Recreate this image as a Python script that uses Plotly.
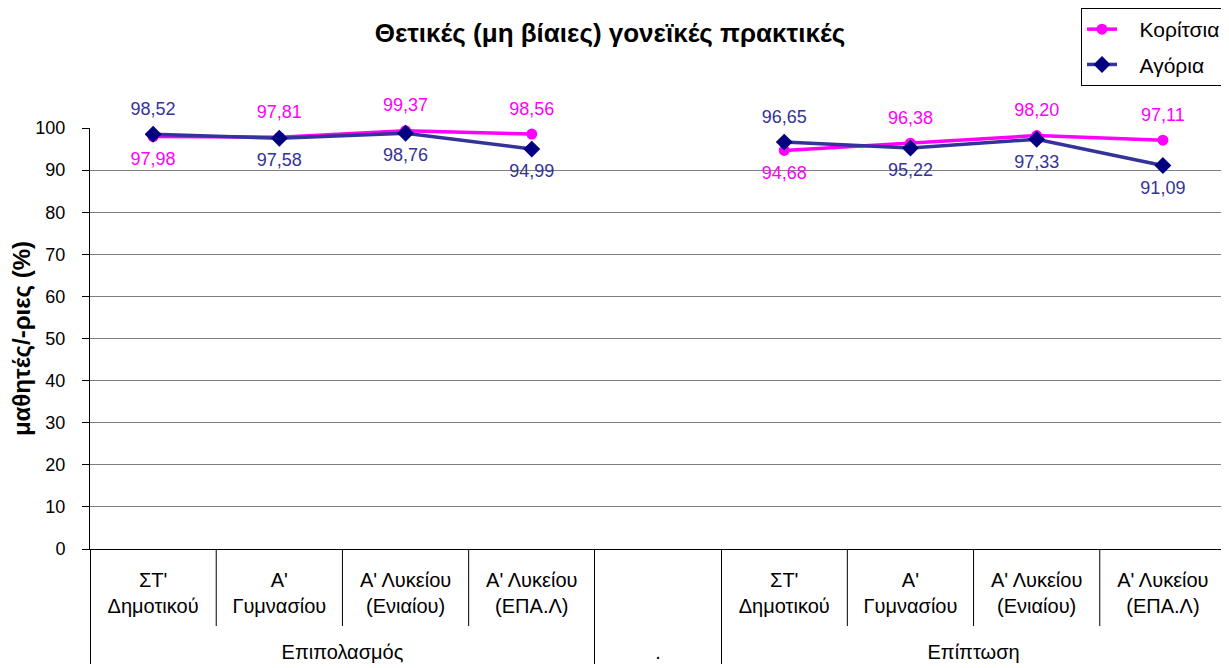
import plotly.graph_objects as go

# κατηγορίες άξονα x
grades = ["ΣΤ'<br>Δημοτικού", "Α'<br>Γυμνασίου", "Α' Λυκείου<br>(Ενιαίου)", "Α' Λυκείου<br>(ΕΠΑ.Λ)"]
groups = ["Επιπολασμός", ".", "Επίπτωση"]

# τιμές (%)
girls_prev = [97.98, 97.81, 99.37, 98.56]
girls_inc = [94.68, 96.38, 98.20, 97.11]
boys_prev = [98.52, 97.58, 98.76, 94.99]
boys_inc = [96.65, 95.22, 97.33, 91.09]

# θέση ετικετών τιμών
girls_pos = ["bottom", "top", "top", "top", "bottom", "top", "top", "top"]
boys_pos = ["top", "bottom", "bottom", "bottom", "top", "bottom", "bottom", "bottom"]

MAGENTA = "#FF00FF"
NAVY_LINE = "#333399"
NAVY_MARK = "#000080"
FONT = "Liberation Sans, Arial, sans-serif"

# η σελίδα έχει περιθώριο 8px, οπότε το σχήμα είναι λίγο μικρότερο από το παράθυρο
W, H = 1221, 660
M = dict(l=82, r=3, t=120, b=119, autoexpand=False)
plot_h = H - M["t"] - M["b"]
plot_w = W - M["l"] - M["r"]

group_fmt = "<br><span style='baseline-shift:-9px'>{}</span>"
x_group = [group_fmt.format(g) for g in [groups[0]] * len(grades) + [groups[1]] + [groups[2]] * len(grades)]
x_sub = grades + [" "] + grades
girls = girls_prev + [None] + girls_inc
boys = boys_prev + [None] + boys_inc

PAD = "\u00a0" * 3  # κενό πριν από το κείμενο του υπομνήματος


def with_gap(lst):
    return lst[:4] + ["top"] + lst[4:]


fig = go.Figure()

fig.add_trace(go.Scatter(
    x=[x_group, x_sub], y=girls, name=PAD + "Κορίτσια", mode="lines+markers",
    line=dict(color=MAGENTA, width=3.5),
    marker=dict(symbol="circle", size=11, color=MAGENTA),
    connectgaps=False, cliponaxis=False, legendgroup="g",
))
fig.add_trace(go.Scatter(
    x=[x_group, x_sub], y=boys, name=PAD + "Αγόρια", mode="lines+markers",
    line=dict(color=NAVY_LINE, width=3.5),
    marker=dict(symbol="diamond", size=13, color=NAVY_MARK),
    connectgaps=False, cliponaxis=False, legendgroup="b",
))

# ετικέτες τιμών (αόρατοι δείκτες για απόσταση από το σημείο)
for vals, pos, col in [(girls, girls_pos, MAGENTA), (boys, boys_pos, NAVY_LINE)]:
    fig.add_trace(go.Scatter(
        x=[x_group, x_sub], y=vals, mode="markers+text",
        marker=dict(size=22, opacity=0),
        texttemplate="%{y:.2f}",
        textposition=[p + " center" for p in with_gap(pos)],
        textfont=dict(color=col, size=18, family=FONT),
        showlegend=False, hoverinfo="skip", cliponaxis=False,
    ))

# κάθετες γραμμές ανάμεσα στις τάξεις (πρώτη σειρά ετικετών)
n = len(x_sub)
for k in [1, 2, 3, 6, 7, 8]:
    fig.add_shape(type="line", xref="x domain", yref="y domain",
                  x0=k / n, x1=k / n, y0=0, y1=-77 / plot_h,
                  line=dict(color="#000000", width=1))

fig.update_layout(
    width=W, height=H,
    margin=M,
    paper_bgcolor="white", plot_bgcolor="white",
    font=dict(family=FONT, size=18, color="#000000"),
    separators=",.",
    title=dict(text="<b>Θετικές (μη βίαιες) γονεϊκές πρακτικές</b>",
               x=0.493, xanchor="center",
               y=0.962, yanchor="middle",
               font=dict(size=26, family=FONT)),
    legend=dict(x=(1218 - M["l"]) / plot_w, xanchor="right",
                y=1 + M["t"] / plot_h, yanchor="top",
                bordercolor="#000000", borderwidth=1, bgcolor="white",
                font=dict(size=21, family=FONT), tracegroupgap=5),
    showlegend=True,
)

fig.update_xaxes(
    type="multicategory", showline=True, linecolor="#000000", linewidth=1,
    showgrid=False, ticks="", showdividers=True, dividercolor="#000000",
    dividerwidth=1, tickfont=dict(size=20, family=FONT), range=[-0.5, n - 0.5],
    ticklabelstandoff=13, automargin=False,
)
# ανοιχτόχρωμη γραμμή στο πάνω όριο (100)
fig.update_layout(xaxis2=dict(
    overlaying="x", side="top", range=[0, 1], showline=True,
    linecolor="#C8C8C8", linewidth=2, showticklabels=False, ticks="",
    showgrid=False, zeroline=False, layer="below traces",
))
fig.update_yaxes(
    range=[0, 100], dtick=10, showgrid=True, gridcolor="#7F7F7F", gridwidth=1,
    zeroline=False, showline=True, linecolor="#000000", linewidth=1,
    ticks="outside", ticklen=7, tickcolor="#000000", ticklabelstandoff=13,
    tickfont=dict(size=18, family=FONT), automargin=False,
    title=dict(text="<b>μαθητές/-ριες (%)</b>", font=dict(size=24, family=FONT), standoff=1),
)

fig.write_html("out.html")
